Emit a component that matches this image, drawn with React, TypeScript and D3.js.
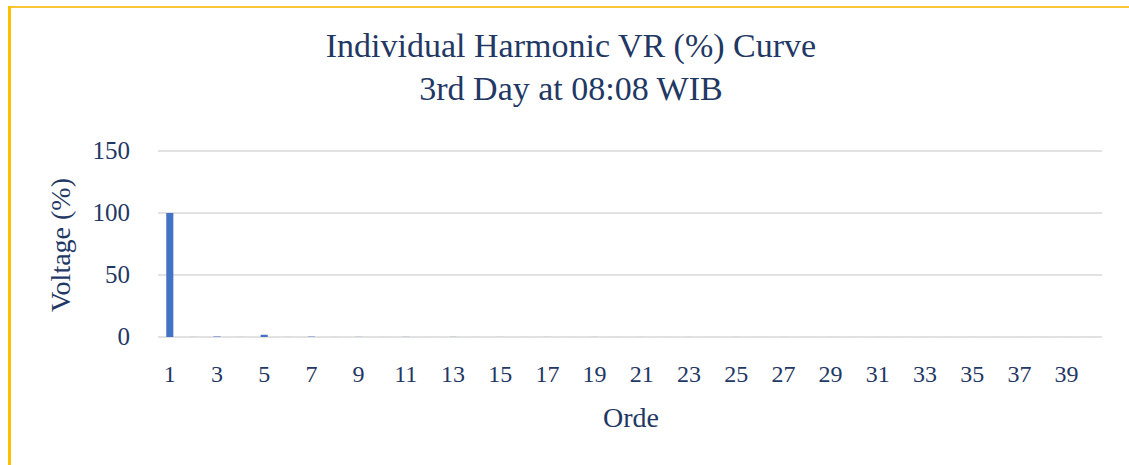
import React from "react";
import * as d3 from "d3";

// harmonic order 1..40
const orders = d3.range(1, 41);
const voltage = [
  100, 0.05, 0.4, 0.05, 1.8, 0.05, 0.3, 0.02, 0.1, 0.02,
  0.1, 0.02, 0.1, 0.02, 0.05, 0.02, 0.05, 0.02, 0.05, 0.02,
  0.03, 0.01, 0.03, 0.01, 0.03, 0.01, 0.02, 0.01, 0.02, 0.01,
  0.02, 0.01, 0.02, 0.01, 0.02, 0.01, 0.01, 0.01, 0.01, 0.01,
];
const yTicks = [0, 50, 100, 150];

const W = 1129, H = 465;
const left = 158, right = 1102, top = 151, bottom = 337;
const navy = "#1F3864";
const font = "'Liberation Serif', 'DejaVu Serif', serif";

export default function App() {
  const x = d3.scaleBand<number>().domain(orders).range([left, right]).paddingInner(0.7).paddingOuter(0.35);
  const y = d3.scaleLinear().domain([0, 150]).range([bottom, top]);

  return (
    <svg width={W} height={H} style={{ position: "absolute", left: 0, top: 0, background: "#fff" }}>
      <rect x={0} y={0} width={W} height={H} fill="#fff" />
      {/* chart frame edges */}
      <line x1={9} x2={W} y1={7} y2={7} stroke="#F8C537" strokeWidth={2} />
      <line x1={9.5} x2={9.5} y1={6} y2={H} stroke="#FFC000" strokeWidth={3} />

      {yTicks.map((t) => (
        <g key={t}>
          <line x1={left} x2={right} y1={y(t)} y2={y(t)} stroke="#D9D9D9" strokeWidth={1.5} />
          <text x={130} y={y(t) + 8} textAnchor="end" fontFamily={font} fontSize={25} fill={navy}>{t}</text>
        </g>
      ))}

      {orders.map((o, i) => (
        <rect key={o} x={x(o)} y={y(voltage[i])} width={x.bandwidth()}
          height={bottom - y(voltage[i])} fill="#4472C4" />
      ))}

      {orders.filter((o) => o % 2 === 1).map((o) => (
        <text key={o} x={(x(o) as number) + x.bandwidth() / 2} y={382} textAnchor="middle"
          fontFamily={font} fontSize={24} fill={navy}>{o}</text>
      ))}

      <text x={571} y={57} textAnchor="middle" fontFamily={font} fontSize={34} fill={navy}>
        Individual Harmonic VR (%) Curve
      </text>
      <text x={571} y={100} textAnchor="middle" fontFamily={font} fontSize={34} fill={navy}>
        3rd Day at 08:08 WIB
      </text>
      <text x={631} y={427} textAnchor="middle" fontFamily={font} fontSize={28} fill={navy}>Orde</text>
      <text transform="translate(70,245) rotate(-90)" textAnchor="middle" fontFamily={font}
        fontSize={28} fill={navy}>Voltage (%)</text>
    </svg>
  );
}
